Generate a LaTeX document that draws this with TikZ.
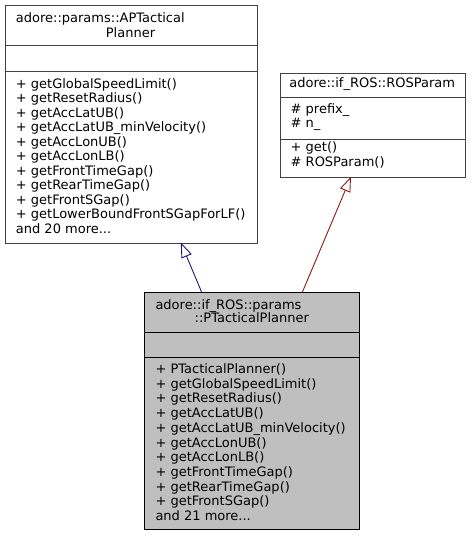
\documentclass[tikz,border=0pt]{standalone}
\usepackage{fontspec}
\setmainfont{DejaVu Sans}
\usetikzlibrary{arrows.meta}
\definecolor{edgeblue}{HTML}{191970}
\definecolor{edgered}{HTML}{8B1A1A}
\definecolor{boxgray}{HTML}{BFBFBF}
\definecolor{boxline}{HTML}{404040}
\newcommand{\mydots}{...}
\begin{document}
\begin{tikzpicture}[x=1pt,y=-1pt,
  txt/.style={inner sep=0pt, font=\fontsize{13}{15}\selectfont, text=black},
  umlbox/.style={draw=boxline, line width=0.9pt, inner sep=0pt, anchor=north west},
  inherit/.style={line width=0.9pt, -{Triangle[open, length=15pt, width=11pt]}}]
\path[use as bounding box] (0,0) rectangle (472,536);

% ---- Box A: adore::params::APTacticalPlanner
\node[umlbox, fill=white, minimum width=252pt, minimum height=238pt] (A) at (4.5,4.5) {};
\draw[boxline, line width=0.9pt] (4.5,45.7) -- (256.5,45.7);
\draw[boxline, line width=0.9pt] (4.5,71) -- (256.5,71);
\node[txt, anchor=base west] (at1) at (15.7,22.3) {adore::params::APTactical};
\node[txt, anchor=base] (at2) at (130.5,37.3) {Planner};
\foreach \t [count=\i from 0] in {+ getGlobalSpeedLimit(), + getResetRadius(), + getAccLatUB(), + getAccLatUB\_minVelocity(), + getAccLonUB(), + getAccLonLB(), + getFrontTimeGap(), + getRearTimeGap(), + getFrontSGap(), + getLowerBoundFrontSGapForLF(), {and 20 more\mydots}}
  \node[txt, anchor=base west] (am\i) at (15.7,{88.3+14.5*\i}) {\t};

% ---- Box B: adore::if_ROS::ROSParam
\node[umlbox, fill=white, minimum width=185.5pt, minimum height=104pt] (B) at (279.5,72.7) {};
\draw[boxline, line width=0.9pt] (279.5,97.7) -- (465,97.7);
\draw[boxline, line width=0.9pt] (279.5,139) -- (465,139);
\node[txt, anchor=base] (bt) at (372.2,87.7) {adore::if\_ROS::ROSParam};
\node[txt, anchor=base west] (ba1) at (290.5,113.3) {\# prefix\_};
\node[txt, anchor=base west] (ba2) at (290.5,127.7) {\# n\_};
\node[txt, anchor=base west] (bm1) at (290.5,151.7) {+ get()};
\node[txt, anchor=base west] (bm2) at (290.5,166) {\# ROSParam()};

% ---- Box C: adore::if_ROS::params::PTacticalPlanner
\node[umlbox, draw=black, fill=boxgray, minimum width=215pt, minimum height=237pt] (C) at (144.3,292.3) {};
\draw[black, line width=0.9pt] (144.3,332.3) -- (359.3,332.3);
\draw[black, line width=0.9pt] (144.3,357.7) -- (359.3,357.7);
\node[txt, anchor=base west] (ct1) at (155.3,309) {adore::if\_ROS::params};
\node[txt, anchor=base] (ct2) at (251.8,322.7) {::PTacticalPlanner};
\foreach \t [count=\i from 0] in {+ PTacticalPlanner(), + getGlobalSpeedLimit(), + getResetRadius(), + getAccLatUB(), + getAccLatUB\_minVelocity(), + getAccLonUB(), + getAccLonLB(), + getFrontTimeGap(), + getRearTimeGap(), + getFrontSGap(), {and 21 more\mydots}}
  \node[txt, anchor=base west] (cm\i) at (155.3,{373.3+14.74*\i}) {\t};

% ---- inheritance connectors
\coordinate (c1) at (201.7,292.3);
\coordinate (a1) at (180.8,242.5);
\coordinate (c2) at (302.3,292.3);
\coordinate (b1) at (351,176.7);
\draw[inherit, edgeblue] (c1) -- (a1);
\draw[inherit, edgered] (c2) -- (b1);
\end{tikzpicture}
\end{document}
